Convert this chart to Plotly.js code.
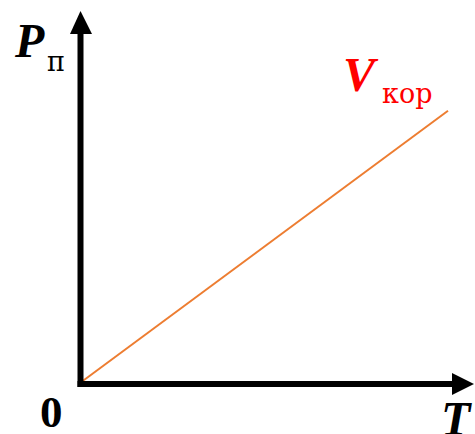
<!DOCTYPE html>
<html>
<head>
<meta charset="utf-8">
<script src="https://cdn.plot.ly/plotly-3.0.1.min.js"></script>
<style>html,body{margin:0;padding:0;background:#fff;}#chart{width:475px;height:434px;}</style>
</head>
<body>
<div id="chart"></div>
<script>
// Data (arbitrary units): linear growth of P with T
const T_values = [0, 10];
const P_values = [0, 7.4];
const xLabel = "T";
const yLabel = "P";
const ySub = "п";
const lineLabel = "V";
const lineSub = "кор";
const originLabel = "0";

// layout scale helpers (pixels -> data)
const W = 475, H = 434;
const X0 = 80, Y0 = 383, S = 36.8;      // origin pixel, px per unit
const px = x => (x - X0) / S;
const py = y => (Y0 - y) / S;

const serif = "Liberation Serif, Times New Roman, serif";
const cyr = "DejaVu Serif, serif";

const shapes = [
  {type:'line', xref:'x', yref:'y', x0:px(80.5), y0:py(387), x1:px(80.5), y1:py(30), line:{color:'#000', width:6}},
  {type:'path', xref:'x', yref:'y', path:`M ${px(80.5)} ${py(11)} L ${px(70)} ${py(34)} L ${px(92)} ${py(34)} Z`, fillcolor:'#000', line:{width:0}},
  {type:'line', xref:'x', yref:'y', x0:px(77.5), y0:py(384), x1:px(456), y1:py(384), line:{color:'#000', width:6}},
  {type:'path', xref:'x', yref:'y', path:`M ${px(474)} ${py(384)} L ${px(452)} ${py(373)} L ${px(452)} ${py(395)} Z`, fillcolor:'#000', line:{width:0}}
];

const ann = (text, x, y, size, color, family) => ({
  text, xref:'paper', yref:'paper', x: x / W, y: 1 - y / H,
  xanchor:'center', yanchor:'middle', showarrow:false,
  font:{family: family || serif, size, color}
});

const annotations = [
  ann('<b><i>' + yLabel + '</i></b>', 29, 41, 48, '#000'),
  ann(ySub, 56, 61, 27, '#000', cyr),
  ann('<b><i>' + lineLabel + '</i></b>', 361, 75, 48, '#ff0000'),
  ann(lineSub, 407, 93, 27, '#ff0000', cyr),
  ann('<b>' + originLabel + '</b>', 51, 412, 45, '#000'),
  ann('<b><i>' + xLabel + '</i></b>', 456, 418, 48, '#000')
];

const trace = {
  x: T_values, y: P_values, type:'scatter', mode:'lines',
  line:{color:'#ED7D31', width:2}, hoverinfo:'skip'
};

const layout = {
  width: W, height: H,
  margin:{l:0, r:0, t:0, b:0},
  paper_bgcolor:'#fff', plot_bgcolor:'#fff',
  showlegend:false,
  xaxis:{range:[px(0), px(W)], visible:false, fixedrange:true},
  yaxis:{range:[py(H), py(0)], visible:false, fixedrange:true},
  shapes, annotations
};

Plotly.newPlot('chart', [trace], layout, {staticPlot:true, displayModeBar:false});
</script>
</body>
</html>
